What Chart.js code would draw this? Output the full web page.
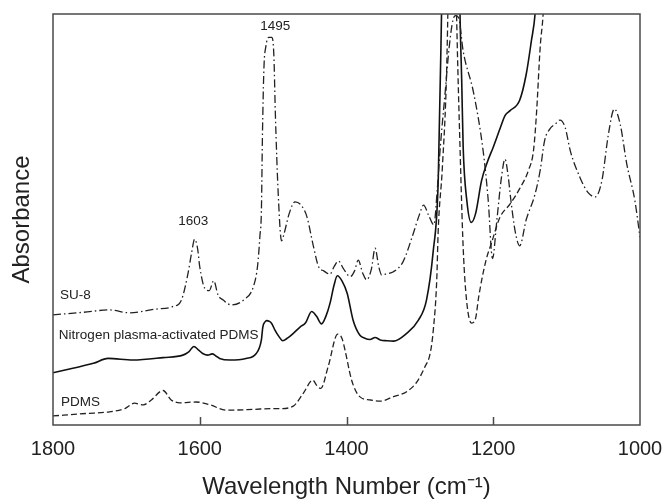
<!DOCTYPE html>
<html>
<head>
<meta charset="utf-8">
<script src="https://cdn.jsdelivr.net/npm/chart.js@4.4.0/dist/chart.umd.min.js"></script>
<style>
  html, body { margin: 0; padding: 0; background: #fff; }
  #wrap { width: 663px; height: 499px; }
</style>
</head>
<body>
<div id="wrap"><canvas id="ftir"></canvas></div>
<script>
// FTIR spectra, wavenumber (cm-1) vs absorbance (arbitrary units, offset)
const su8Wn = [1800,1760,1723,1696,1660,1637,1625,1616,1611,1607,1603,1600,1593,1587,1581,1575,1568,1557,1539,1527,1521,1518,1516,1514.5,1512.5,1510,1506,1502,1499,1497,1493,1488.5,1485,1478,1470,1462,1454,1445,1438,1431,1422.5,1417,1411,1404,1395,1389,1384,1378,1372.5,1366,1361,1356,1352,1345,1336,1323,1309,1301,1295,1288,1281,1276,1272,1266,1260,1255,1251,1247,1241,1227,1214,1207,1201,1195,1189,1184,1180,1176,1170,1164,1155,1143,1136,1130,1123,1115,1109,1102,1095,1082,1071,1061,1052,1043,1035,1027,1018,1007,1000];
const su8Abs = [26.8,27.4,28.0,27.3,28.2,28.8,30.4,36.9,42,45.2,43,38.5,33.2,32.7,35.1,31.6,30.4,29.2,30.6,33.6,39,46,52,71,87,92,94.3,94.3,90,76,56,44.8,46.6,51.5,54.3,53.5,50.7,43.4,38.5,37.5,36.7,38.5,39.9,38,36.1,37.5,40.1,37,35.3,38,43,38.5,36.5,36.8,37.3,39.7,46.6,51,53.5,51,48.7,58,68,80,92,98.5,99.6,99,91,81,67,55,40.5,50,60,64.7,61,54.7,47,43.6,50,56.2,62,69.2,72,73.3,74.2,72.4,66.7,60.3,56.6,55.5,59.4,70.8,76.9,73.2,63.5,54.6,45.7];

const n2Wn = [1800,1773,1745,1725,1691,1650,1623,1615,1608,1602,1596,1589,1583,1578,1573,1559,1537,1523,1516,1514,1511,1509,1505,1502,1497.5,1492,1487,1480,1472.5,1463,1456,1447.5,1441,1434,1428,1422.5,1417,1412.5,1406,1399,1391,1382,1375,1368,1361,1354,1345,1336,1318,1302,1291,1282,1275,1270.5,1266,1258,1250,1245.3,1243,1241,1236,1230,1224,1216,1208,1200,1190,1184,1177,1164,1155,1148,1143,1135];
const n2Abs = [12.7,13.8,15.0,16.2,15.8,16.4,17.0,17.8,19.1,18.3,17.4,17.0,17.3,16.8,16.2,15.8,16.2,17.4,20.7,23.9,25.1,25.4,25.2,24.7,23.1,21.5,20.5,21.2,22.3,23.9,24.8,27.6,26.5,24.6,26.5,29.6,34,36.3,35,32.0,25.5,21.9,21.1,20.8,21.3,20.7,20.5,20.4,22.3,25.5,30.4,42,59.4,100,150,185,160,100,83.8,67.6,54.6,49.3,51.5,59.4,64,67.6,72.5,75.3,76.5,79,85.4,93.5,100,125];

const pdmsWn = [1800,1755,1723,1702,1689,1677,1666,1650,1639,1627,1605,1586,1564,1527,1502,1490,1472.5,1459,1446,1440,1435,1425,1412,1406,1402,1393,1382,1368,1354,1336,1318,1304,1293,1286,1281.7,1277,1275,1269.3,1263.4,1259,1255,1252,1250,1245.3,1241,1236.3,1229.5,1224,1220,1210,1202,1191,1177,1164,1152,1145,1141,1136,1132,1125];
const pdmsAbs = [2.2,2.8,3.2,4.0,5.3,4.9,6.1,8.4,6.1,5.4,5.6,4.9,3.6,3.8,4.0,4.0,4.6,7.7,10.9,9.5,8.9,14.2,22.1,21,18.2,10.9,6.9,6.1,5.8,6.9,8.1,10.5,14.2,17.4,23.1,35.3,47.4,62.8,87.2,130,165,120,100,67.6,43.2,30.2,24.8,26,31,40,44.5,50.5,53.8,57.5,62,67,76,92,100,125];

const xTicks = [1800, 1600, 1400, 1200, 1000];

// text notes placed in data coordinates
const notes = [
    { text: '1603', wn: 1609, abs: 49.5, align: 'center' },
    { text: '1495', wn: 1497, abs: 97.0, align: 'center' },
    { text: 'SU-8', wn: 1790.5, abs: 31.6, align: 'left' },
    { text: 'Nitrogen plasma-activated PDMS', wn: 1792, abs: 21.9, align: 'left' },
    { text: 'PDMS', wn: 1789, abs: 5.6, align: 'left' }
];

const FONT = '"Liberation Sans", Arial, Helvetica, sans-serif';

function pts(wn, abs) {
    return wn.map((w, i) => ({ x: w, y: abs[i] }));
}

// box frame, inward tick marks, and the curve labels
const framePlugin = {
    id: 'frame',
    afterDraw(chart) {
        const { ctx, chartArea: a, scales } = chart;
        ctx.save();
        ctx.strokeStyle = '#4a4a4a';
        ctx.lineWidth = 1.5;
        ctx.strokeRect(a.left, a.top, a.right - a.left, a.bottom - a.top);
        ctx.beginPath();
        xTicks.forEach(t => {
            const px = Math.round(scales.x.getPixelForValue(t)) + 0.5;
            if (px > a.left + 2 && px < a.right - 2) {
                ctx.moveTo(px, a.bottom);
                ctx.lineTo(px, a.bottom - 8);
            }
        });
        ctx.stroke();

        ctx.fillStyle = '#222';
        ctx.font = '13.5px ' + FONT;
        ctx.textBaseline = 'middle';
        notes.forEach(n => {
            ctx.textAlign = n.align;
            ctx.fillText(n.text, scales.x.getPixelForValue(n.wn), scales.y.getPixelForValue(n.abs));
        });
        ctx.restore();
    }
};

const ctx = document.getElementById('ftir').getContext('2d');

const ftirChart = new Chart(ctx, {
    type: 'line',
    data: {
        datasets: [
            {
                label: 'SU-8',
                data: pts(su8Wn, su8Abs),
                borderColor: '#222',
                borderWidth: 1.3,
                borderDash: [8, 3, 1.5, 3],
            },
            {
                label: 'Nitrogen plasma-activated PDMS',
                data: pts(n2Wn, n2Abs),
                borderColor: '#111',
                borderWidth: 1.6,
            },
            {
                label: 'PDMS',
                data: pts(pdmsWn, pdmsAbs),
                borderColor: '#222',
                borderWidth: 1.3,
                borderDash: [6, 3],
            }
        ]
    },
    options: {
        responsive: true,
        maintainAspectRatio: false,
        animation: false,
        layout: { padding: { top: 14, right: 23, left: 0, bottom: 0 } },
        elements: {
            point: { radius: 0 },
            line: { cubicInterpolationMode: 'monotone', fill: false }
        },
        plugins: {
            legend: { display: false },
            tooltip: { enabled: false }
        },
        scales: {
            x: {
                type: 'linear',
                reverse: true,
                min: 1000,
                max: 1800,
                afterBuildTicks: s => { s.ticks = xTicks.map(v => ({ value: v })); },
                ticks: {
                    color: '#222',
                    font: { size: 20, family: FONT },
                    padding: 4,
                    maxRotation: 0,
                    callback: v => String(v)
                },
                grid: { display: false },
                border: { display: false },
                title: {
                    display: true,
                    text: 'Wavelength Number (cm\u207B\u00B9)',
                    color: '#222',
                    font: { size: 24, family: FONT, lineHeight: 1 },
                    padding: 0
                },
                afterFit: s => {
                    s.height = 74;
                    s.paddingLeft = 0;
                    s.paddingRight = 0;
                }
            },
            y: {
                min: 0,
                max: 100,
                ticks: { display: false },
                grid: { display: false },
                border: { display: false },
                title: {
                    display: true,
                    text: 'Absorbance',
                    color: '#222',
                    font: { size: 24, family: FONT, lineHeight: 1.2 },
                    padding: { top: 7.6, bottom: 0 }
                },
                afterFit: s => { s.width = 53; }
            }
        }
    },
    plugins: [framePlugin]
});
</script>
</body>
</html>
